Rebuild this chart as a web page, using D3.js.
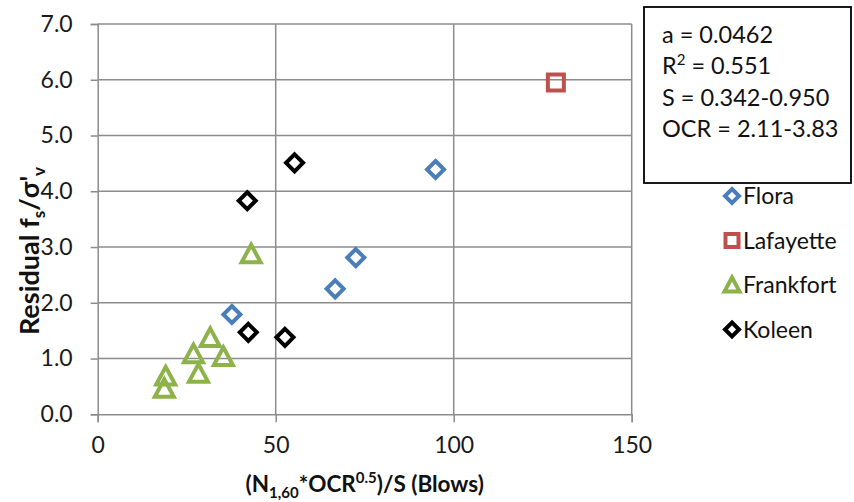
<!DOCTYPE html>
<html><head><meta charset="utf-8">
<script src="https://cdn.jsdelivr.net/npm/d3@7"></script>
<style>
body{margin:0;background:#fff;}
svg{display:block;font-family:Lato, "Open Sans", sans-serif;}
</style></head>
<body><svg id="c" width="854" height="502"></svg>
<script>
const xTicks = [0, 50, 100, 150];
const yTicks = [0, 1, 2, 3, 4, 5, 6, 7];
const seriesNames = ["Flora", "Lafayette", "Frankfort", "Koleen"];
const floraX = [94.9, 72.5, 66.7, 37.7];
const floraY = [4.39, 2.81, 2.25, 1.79];
const lafayetteX = [128.7];
const lafayetteY = [5.95];
const frankfortX = [43.1, 31.6, 26.9, 35.3, 28.3, 19.1, 18.7];
const frankfortY = [2.87, 1.37, 1.08, 1.03, 0.73, 0.68, 0.46];
const koleenX = [55.3, 42.0, 42.3, 52.6];
const koleenY = [4.51, 3.83, 1.47, 1.38];
const statLines = ["a = 0.0462", "R2 = 0.551", "S = 0.342-0.950", "OCR = 2.11-3.83"];

const colors = {Flora:"#4a7ebb", Lafayette:"#c0504d", Frankfort:"#8db24a", Koleen:"#000000"};
const shapes = {Flora:"diamond", Lafayette:"square", Frankfort:"triangle", Koleen:"diamond"};

const svg = d3.select("#c");
const L = 97.7, R = 631.7, T = 24, B = 414.3;
const x = d3.scaleLinear().domain([0,150]).range([L,R]);
const y = d3.scaleLinear().domain([0,7]).range([B,T]);
const gridC = "#8c8c8c";

svg.append("g").selectAll("line").data(yTicks.slice(1)).join("line")
  .attr("x1",L).attr("x2",R).attr("y1",d=>y(d)).attr("y2",d=>y(d))
  .attr("stroke",gridC).attr("stroke-width",1.5);
svg.append("g").selectAll("line").data(xTicks.slice(1)).join("line")
  .attr("y1",T).attr("y2",B).attr("x1",d=>x(d)).attr("x2",d=>x(d))
  .attr("stroke",gridC).attr("stroke-width",1.5);

const xa = svg.append("g").attr("transform",`translate(0,${B})`)
  .call(d3.axisBottom(x).tickValues(xTicks).tickFormat(d3.format("d")).tickSize(8).tickPadding(14));
const ya = svg.append("g").attr("transform",`translate(${L},0)`)
  .call(d3.axisLeft(y).tickValues(yTicks).tickFormat(d3.format(".1f")).tickSize(7).tickPadding(18));
[xa,ya].forEach(a=>{
  a.select(".domain").attr("stroke",gridC).attr("stroke-width",1.5);
  a.selectAll(".tick line").attr("stroke",gridC).attr("stroke-width",1.5);
  a.selectAll(".tick text").attr("font-family","Lato").attr("font-size",23).attr("fill","#1a1a1a");
});

function diamondPath(r){ return `M0,${-r}L${r},0L0,${r}L${-r},0Z`; }
function squarePath(r){ return `M${-r},${-r}H${r}V${r}H${-r}Z`; }
function triPath(r){ return `M0,${-r}L${r},${r*0.85}L${-r},${r*0.85}Z`; }
function path(shape, r){
  return shape==="diamond"?diamondPath(r):shape==="square"?squarePath(r):triPath(r);
}

const data = [
  {name:"Flora", xs:floraX, ys:floraY},
  {name:"Lafayette", xs:lafayetteX, ys:lafayetteY},
  {name:"Frankfort", xs:frankfortX, ys:frankfortY},
  {name:"Koleen", xs:koleenX, ys:koleenY}
];
const sizes = {diamond:8.5, square:8, triangle:9.5};
data.forEach(s=>{
  const pts = s.xs.map((v,i)=>({x:v,y:s.ys[i]}));
  svg.append("g").selectAll("path").data(pts).join("path")
    .attr("d",path(shapes[s.name], sizes[shapes[s.name]]))
    .attr("transform",d=>`translate(${x(d.x)},${y(d.y)})`)
    .attr("fill","none").attr("stroke",colors[s.name]).attr("stroke-width",4);
});

svg.append("rect").attr("x",644).attr("y",7).attr("width",207).attr("height",176)
  .attr("fill","#fff").attr("stroke","#000").attr("stroke-width",1.8);
const st = svg.append("g").attr("font-family","Lato").attr("font-size",23.5).attr("fill","#111");
statLines.forEach((t,i)=>{
  const tx = st.append("text").attr("x",662).attr("y",43+i*31.3);
  if(t.startsWith("R2")){
    tx.append("tspan").text("R");
    tx.append("tspan").attr("dy",-9).attr("font-size",15).text("2");
    tx.append("tspan").attr("dy",9).text(t.slice(2));
  } else tx.text(t);
});

const lg = svg.append("g");
seriesNames.forEach((n,i)=>{
  const cy = 196 + i*44.5;
  const sh = shapes[n];
  lg.append("path").attr("d",path(sh, sh==="triangle"?7.5:sh==="square"?6.5:7))
    .attr("transform",`translate(732,${cy})`)
    .attr("fill","none").attr("stroke",colors[n]).attr("stroke-width",4);
  lg.append("text").attr("x",743).attr("y",cy+8).attr("font-family","Lato")
    .attr("font-size",23).attr("fill","#111").text(n);
});

const xt = svg.append("text").attr("x",(L+R)/2).attr("y",492).attr("text-anchor","middle")
  .attr("font-family","Lato").attr("font-weight","bold").attr("font-size",22.5).attr("fill","#111");
xt.append("tspan").text("(N");
xt.append("tspan").attr("dy",6).attr("font-size",15).text("1,60");
xt.append("tspan").attr("dy",-6).text("*OCR");
xt.append("tspan").attr("dy",-9).attr("font-size",15).text("0.5");
xt.append("tspan").attr("dy",9).text(")/S (Blows)");

const yt = svg.append("text").attr("transform",`translate(39,251) rotate(-90)`)
  .attr("text-anchor","middle").attr("font-family","Lato").attr("font-weight","bold")
  .attr("font-size",27).attr("fill","#111");
yt.append("tspan").text("Residual f");
yt.append("tspan").attr("dy",6).attr("font-size",17).text("s");
yt.append("tspan").attr("dy",-6).text("/σ'");
yt.append("tspan").attr("dy",6).attr("font-size",17).text("v");
</script></body></html>
